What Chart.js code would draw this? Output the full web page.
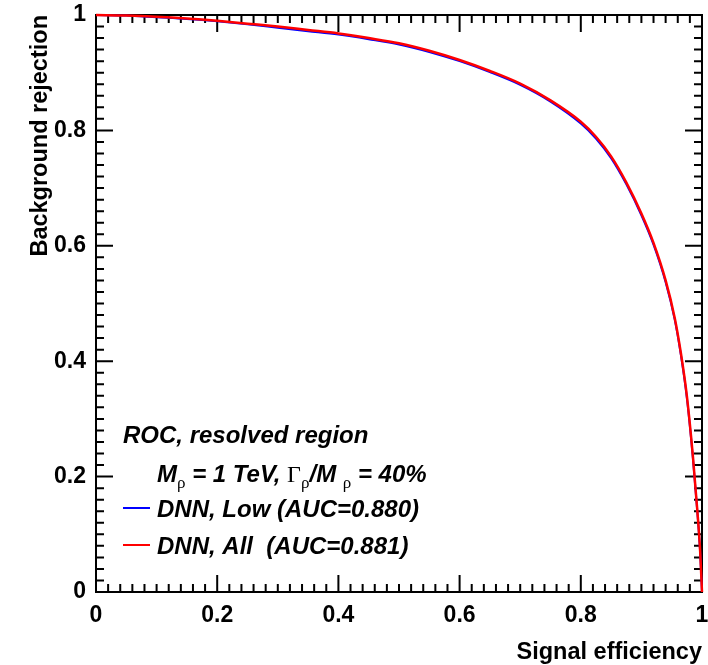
<!DOCTYPE html>
<html>
<head>
<meta charset="utf-8">
<script src="https://cdn.jsdelivr.net/npm/chart.js@4/dist/chart.umd.min.js"></script>
<style>
  html, body { margin: 0; padding: 0; background: #fff; }
</style>
</head>
<body>
<canvas id="rocChart" width="708" height="665"></canvas>
<script>
// ROC curves: signal efficiency vs background rejection
var signalEff = [0, 0.05, 0.1, 0.15, 0.2, 0.25, 0.3, 0.35, 0.4, 0.45, 0.5, 0.55, 0.6, 0.65, 0.7,
                 0.75, 0.8, 0.825, 0.85, 0.875, 0.9, 0.92, 0.94, 0.955, 0.965, 0.975, 0.985, 0.992, 0.997, 1.0];
var rejLow = [1.000, 0.999, 0.996, 0.993, 0.989, 0.984, 0.978, 0.972, 0.966, 0.958, 0.949, 0.936, 0.920, 0.901, 0.879,
              0.850, 0.812, 0.786, 0.752, 0.707, 0.653, 0.602, 0.537, 0.472, 0.412, 0.337, 0.232, 0.143, 0.068, 0.0];
var rejAll = [1.000, 0.999, 0.997, 0.994, 0.990, 0.985, 0.980, 0.974, 0.968, 0.960, 0.951, 0.938, 0.922, 0.903, 0.881,
              0.852, 0.815, 0.789, 0.755, 0.710, 0.656, 0.605, 0.540, 0.475, 0.415, 0.340, 0.235, 0.145, 0.070, 0.0];

var majorValues = [0, 0.2, 0.4, 0.6, 0.8, 1];
var majorLabels = ['0', '0.2', '0.4', '0.6', '0.8', '1'];
var minorStep = 0.02;

var seriesNames = ['DNN, Low (AUC=0.880)', 'DNN, All  (AUC=0.881)'];
var seriesColors = ['#0000ff', '#ff0000'];

var SANS = '"Liberation Sans", Arial, Helvetica, sans-serif';
var SERIF = '"Liberation Serif", "Times New Roman", serif';

function majorIndex(v) {
  for (var i = 0; i < majorValues.length; i++) {
    if (Math.abs(majorValues[i] - v) < 1e-6) return i;
  }
  return -1;
}

function toPoints(xs, ys) {
  return xs.map(function (x, i) { return { x: x, y: ys[i] }; });
}

// frame with inward ticks on all four sides
var frameTicks = {
  id: 'frameTicks',
  beforeDatasetsDraw: function (chart) {
    var ctx = chart.ctx, a = chart.chartArea;
    var xs = chart.scales.x, ys = chart.scales.y;
    ctx.save();
    ctx.strokeStyle = '#000';
    ctx.lineWidth = 2;
    ctx.strokeRect(a.left, a.top, a.right - a.left, a.bottom - a.top);
    ctx.beginPath();
    xs.ticks.forEach(function (t) {
      var px = xs.getPixelForValue(t.value);
      var len = majorIndex(t.value) >= 0 ? 17 : 8;
      ctx.moveTo(px, a.bottom); ctx.lineTo(px, a.bottom - len);
      ctx.moveTo(px, a.top); ctx.lineTo(px, a.top + len);
    });
    ys.ticks.forEach(function (t) {
      var py = ys.getPixelForValue(t.value);
      var len = majorIndex(t.value) >= 0 ? 17 : 8;
      ctx.moveTo(a.left, py); ctx.lineTo(a.left + len, py);
      ctx.moveTo(a.right, py); ctx.lineTo(a.right - len, py);
    });
    ctx.stroke();
    ctx.restore();
  }
};

// text block and line samples in the lower left of the frame
var rocLegend = {
  id: 'rocLegend',
  afterDraw: function (chart) {
    var ctx = chart.ctx;
    var main = 'italic bold 24px ' + SANS;
    var greek = '24px ' + SERIF;
    var sub = '17px ' + SERIF;
    ctx.save();
    ctx.fillStyle = '#000';
    ctx.textBaseline = 'alphabetic';
    ctx.textAlign = 'left';
    ctx.font = main;
    ctx.fillText('ROC, resolved region', 123, 443);

    var parts = [
      ['M', main, 0], ['\u03c1', sub, 6], [' = 1 TeV, ', main, 0],
      ['\u0393', greek, 0], ['\u03c1', sub, 6], ['/M', main, 0], [' ', main, 0],
      ['\u03c1', sub, 6], [' = 40%', main, 0]
    ];
    var x = 157;
    parts.forEach(function (p) {
      ctx.font = p[1];
      ctx.fillText(p[0], x, 482 + p[2]);
      x += ctx.measureText(p[0]).width;
    });

    var rows = [508, 545];
    chart.data.datasets.forEach(function (ds, i) {
      var y = rows[i];
      ctx.strokeStyle = ds.borderColor;
      ctx.lineWidth = 2;
      ctx.beginPath();
      ctx.moveTo(123, y);
      ctx.lineTo(150, y);
      ctx.stroke();
      ctx.font = main;
      ctx.fillText(ds.label, 157, y + 9);
    });
    ctx.restore();
  }
};

var tickFont = { family: SANS, size: 23, weight: 'bold' };
var titleFont = { family: SANS, size: 23.5, weight: 'bold', lineHeight: 1 };

function tickLabel(v) {
  var i = majorIndex(v);
  return i >= 0 ? majorLabels[i] : '';
}

function noEdgePadding(s) {
  s.paddingTop = 0;
  s.paddingBottom = 0;
  s.paddingLeft = 0;
  s.paddingRight = 0;
}

var ctx = document.getElementById('rocChart').getContext('2d');
var rocChart = new Chart(ctx, {
  type: 'line',
  data: {
    datasets: [{
      label: seriesNames[0],
      data: toPoints(signalEff, rejLow),
      borderColor: seriesColors[0],
      borderWidth: 2,
      pointRadius: 0,
      fill: false,
      cubicInterpolationMode: 'monotone',
      clip: 4,
      order: 1
    }, {
      label: seriesNames[1],
      data: toPoints(signalEff, rejAll),
      borderColor: seriesColors[1],
      borderWidth: 2.5,
      pointRadius: 0,
      fill: false,
      cubicInterpolationMode: 'monotone',
      clip: 4,
      order: 0
    }]
  },
  options: {
    responsive: false,
    animation: false,
    devicePixelRatio: 1,
    layout: { padding: { top: 15, right: 6, left: 0, bottom: 0 } },
    plugins: {
      legend: { display: false },
      tooltip: { enabled: false }
    },
    scales: {
      x: {
        type: 'linear',
        min: 0,
        max: 1,
        afterFit: function (s) { s.height = 73; noEdgePadding(s); },
        grid: { display: false, drawTicks: false },
        border: { display: false },
        ticks: {
          stepSize: minorStep,
          autoSkip: false,
          maxRotation: 0,
          maxTicksLimit: 100,
          padding: 10,
          color: '#000',
          font: tickFont,
          callback: tickLabel
        },
        title: {
          display: true,
          text: 'Signal efficiency',
          align: 'end',
          color: '#000',
          font: titleFont,
          padding: { top: 0, bottom: 1 }
        }
      },
      y: {
        type: 'linear',
        min: 0,
        max: 1,
        afterFit: function (s) { s.width = 96; noEdgePadding(s); },
        grid: { display: false, drawTicks: false },
        border: { display: false },
        ticks: {
          stepSize: minorStep,
          autoSkip: false,
          maxTicksLimit: 100,
          padding: 10,
          color: '#000',
          font: tickFont,
          callback: tickLabel
        },
        title: {
          display: true,
          text: 'Background rejection',
          align: 'end',
          color: '#000',
          font: titleFont,
          padding: { top: 29, bottom: 0 }
        }
      }
    }
  },
  plugins: [frameTicks, rocLegend]
});
</script>
</body>
</html>
